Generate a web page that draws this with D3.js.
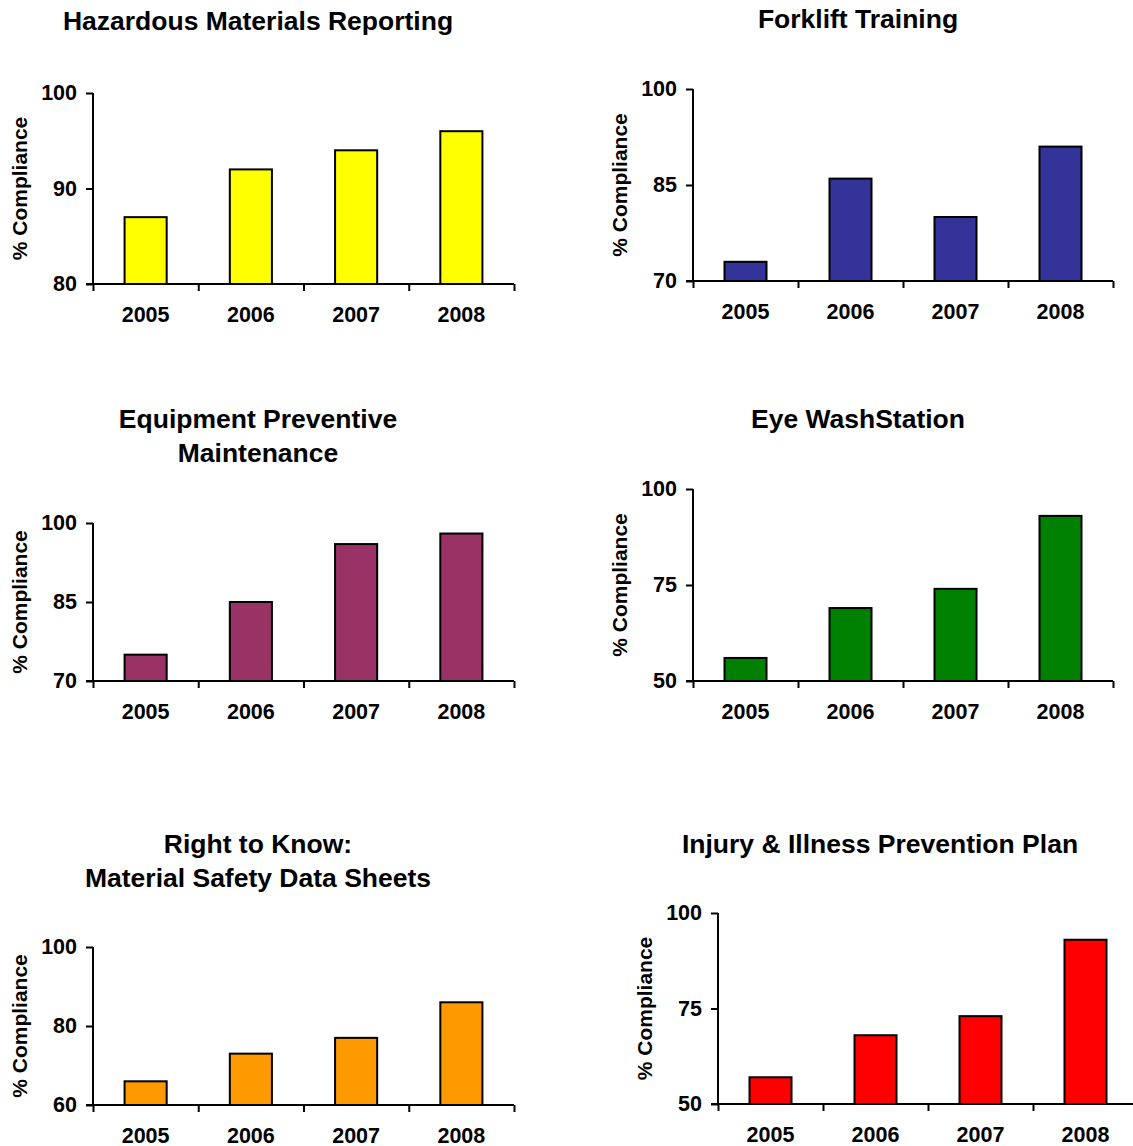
<!DOCTYPE html>
<html>
<head>
<meta charset="utf-8">
<script src="https://cdn.jsdelivr.net/npm/d3@7"></script>
<style>
  html, body { margin: 0; padding: 0; background: #fff; }
  svg { display: block; }
  text { font-family: "Liberation Sans", Arial, Helvetica, sans-serif; font-weight: bold; fill: #000; }
</style>
</head>
<body>
<svg id="chart" width="1133" height="1146"></svg>
<script>
// ---- data ----
const years = ["2005", "2006", "2007", "2008"];

const hazmatValues    = [87, 92, 94, 96];
const forkliftValues  = [73, 86, 80, 91];
const equipmentValues = [75, 85, 96, 98];
const eyewashValues   = [56, 69, 74, 93];
const msdsValues      = [66, 73, 77, 86];
const injuryValues    = [57, 68, 73, 93];

const hazmatTicks    = [80, 90, 100];
const forkliftTicks  = [70, 85, 100];
const equipmentTicks = [70, 85, 100];
const eyewashTicks   = [50, 75, 100];
const msdsTicks      = [60, 80, 100];
const injuryTicks    = [50, 75, 100];

const hazmatTitle    = ["Hazardous Materials Reporting"];
const forkliftTitle  = ["Forklift Training"];
const equipmentTitle = ["Equipment Preventive", "Maintenance"];
const eyewashTitle   = ["Eye WashStation"];
const msdsTitle      = ["Right to Know:", "Material Safety Data Sheets"];
const injuryTitle    = ["Injury & Illness Prevention Plan"];

const yLabel = "% Compliance";

// ---- layout (positions & styles) ----
const panels = [
  { values: hazmatValues,    ticks: hazmatTicks,    title: hazmatTitle,    color: "#FFFF00", x0: 93,  x1: 514,  y0: 93,  y1: 284,  titleX: 258, titleY: 30 },
  { values: forkliftValues,  ticks: forkliftTicks,  title: forkliftTitle,  color: "#333399", x0: 693, x1: 1113, y0: 89,  y1: 281,  titleX: 858, titleY: 28 },
  { values: equipmentValues, ticks: equipmentTicks, title: equipmentTitle, color: "#993366", x0: 93,  x1: 514,  y0: 523, y1: 681,  titleX: 258, titleY: 428 },
  { values: eyewashValues,   ticks: eyewashTicks,   title: eyewashTitle,   color: "#008000", x0: 693, x1: 1113, y0: 489, y1: 681,  titleX: 858, titleY: 428 },
  { values: msdsValues,      ticks: msdsTicks,      title: msdsTitle,      color: "#FF9900", x0: 93,  x1: 514,  y0: 947, y1: 1105, titleX: 258, titleY: 853 },
  { values: injuryValues,    ticks: injuryTicks,    title: injuryTitle,    color: "#FF0000", x0: 718, x1: 1138, y0: 913, y1: 1104, titleX: 880, titleY: 853 }
];

const svg = d3.select("#chart");

panels.forEach(p => {
  const g = svg.append("g");

  const x = d3.scaleBand().domain(years).range([p.x0, p.x1]).padding(0);
  const xEdge = d3.scaleLinear().domain([0, years.length]).range([p.x0, p.x1]);
  const y = d3.scaleLinear().domain([d3.min(p.ticks), d3.max(p.ticks)]).range([p.y1, p.y0]);

  const barW = x.bandwidth() * 0.4;

  // bars
  g.selectAll("rect.bar")
    .data(p.values)
    .join("rect")
    .attr("class", "bar")
    .attr("x", (d, i) => x(years[i]) + (x.bandwidth() - barW) / 2)
    .attr("y", d => y(d))
    .attr("width", barW)
    .attr("height", d => y(d3.min(p.ticks)) - y(d))
    .attr("fill", p.color)
    .attr("stroke", "#000")
    .attr("stroke-width", 2);

  // y axis
  const yAxis = g.append("g")
    .attr("transform", `translate(${p.x0},0)`)
    .call(d3.axisLeft(y).tickValues(p.ticks).tickSize(7).tickPadding(9).tickFormat(d3.format("d")));
  yAxis.select(".domain").attr("stroke", "#000").attr("stroke-width", 2)
    .attr("d", `M0,${p.y0}V${p.y1}`);
  yAxis.selectAll(".tick line").attr("stroke", "#000").attr("stroke-width", 2);
  yAxis.selectAll(".tick text")
    .style("font-size", "21.5px")
    .style("font-family", "'Liberation Sans', Arial, sans-serif")
    .style("font-weight", "bold")
    .attr("fill", "#000");

  // x axis ticks at band edges
  const xTicks = g.append("g")
    .attr("transform", `translate(0,${p.y1})`)
    .call(d3.axisBottom(xEdge).tickValues(d3.range(years.length + 1)).tickSize(7).tickFormat(""));
  xTicks.select(".domain").attr("stroke", "#000").attr("stroke-width", 2)
    .attr("d", `M${p.x0 - 7},0H${p.x1}`);
  xTicks.selectAll(".tick line").attr("stroke", "#000").attr("stroke-width", 2);

  // x labels at band centers
  const xLabels = g.append("g")
    .attr("transform", `translate(0,${p.y1})`)
    .call(d3.axisBottom(x).tickSize(0).tickPadding(23));
  xLabels.select(".domain").remove();
  xLabels.selectAll(".tick text")
    .style("font-size", "21.5px")
    .style("font-family", "'Liberation Sans', Arial, sans-serif")
    .style("font-weight", "bold")
    .attr("fill", "#000");

  // y label
  g.append("text")
    .attr("transform", `translate(${p.x0 - 74},${(p.y0 + p.y1) / 2}) rotate(-90)`)
    .attr("text-anchor", "middle")
    .attr("dominant-baseline", "central")
    .style("font-size", "21px")
    .text(yLabel);

  // title
  g.append("text")
    .attr("x", p.titleX)
    .attr("y", p.titleY)
    .attr("text-anchor", "middle")
    .style("font-size", "26.5px")
    .selectAll("tspan")
    .data(p.title)
    .join("tspan")
    .attr("x", p.titleX)
    .attr("dy", (d, i) => i === 0 ? 0 : 34)
    .text(d => d);
});
</script>
</body>
</html>
